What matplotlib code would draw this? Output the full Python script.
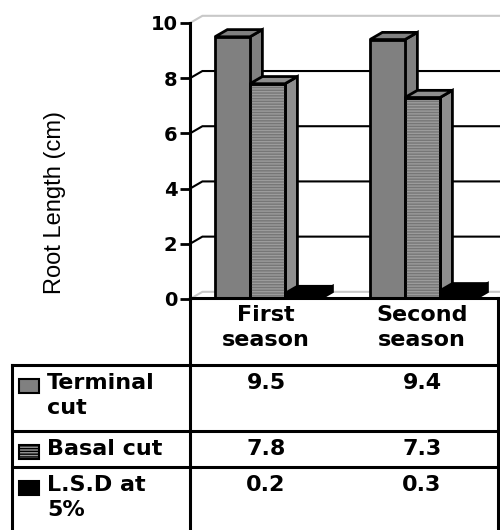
import matplotlib.pyplot as plt
from matplotlib.patches import Rectangle
import numpy as np

# data
seasons = ['First\nseason', 'Second\nseason']
terminal_cut = [9.5, 9.4]
basal_cut = [7.8, 7.3]
lsd_5 = [0.2, 0.3]
series_labels = ['Terminal\ncut', 'Basal cut', 'L.S.D at\n5%']
y_ticks = [0, 2, 4, 6, 8, 10]

series = [terminal_cut, basal_cut, lsd_5]
face_colors = ['#808080', '#9c9c9c', '#000000']
side_colors = ['#808080', '#8e8e8e', '#000000']
hatches = [None, '------', None]

W, H = 500, 530
fig = plt.figure(figsize=(W / 100, H / 100), dpi=100)

# main chart area (pixel positions from the reference)
ax = fig.add_axes([190 / W, 1 - 299 / H, 310 / W, 276 / H])
ax.set_xlim(-0.5, 1.5)
ax.set_ylim(0, 10)

x = np.arange(len(seasons))
bw = 0.226          # bar width in category units
dx, dy = 0.08, 0.26  # 3D depth offset

# back wall gridlines with the diagonal floor/wall edge
for v in y_ticks:
    col = '#c8c8c8' if v in (0, 10) else 'black'
    ax.plot([-0.5, -0.5 + dx, 1.5], [v, v + dy, v + dy], color=col, lw=1.5,
            clip_on=False, zorder=1, solid_joinstyle='miter')

# 3D-ish bars: front face, side face, top face
for i, vals in enumerate(series):
    off = (i - 1) * bw
    z = 3 + i
    for j, v in enumerate(vals):
        x0 = x[j] + off - bw / 2
        x1 = x0 + bw
        ax.fill([x1, x1 + dx, x1 + dx, x1], [0, dy, v + dy, v],
                facecolor=side_colors[i], edgecolor='black', lw=2, zorder=z,
                joinstyle='miter')
        ax.fill([x0, x1, x1 + dx, x0 + dx], [v, v, v + dy, v + dy],
                facecolor=side_colors[i], edgecolor='black', lw=2, zorder=z,
                joinstyle='miter')
        ax.bar(x0, v, width=bw, align='edge', color=face_colors[i],
               edgecolor='black', lw=2, zorder=z)
        if hatches[i]:
            ax.bar(x0, v, width=bw, align='edge', fill=False, hatch=hatches[i],
                   edgecolor='#767676', lw=0, zorder=z + 0.1)
            ax.bar(x0, v, width=bw, align='edge', fill=False,
                   edgecolor='black', lw=2, zorder=z + 0.2)

for s in ['top', 'right', 'bottom']:
    ax.spines[s].set_visible(False)
ax.spines['left'].set_linewidth(2.2)
ax.set_xticks([])
ax.set_yticks(y_ticks)
ax.tick_params(axis='y', length=7, width=2, labelsize=14, pad=2)
for lbl in ax.get_yticklabels():
    lbl.set_fontweight('bold')
ax.patch.set_visible(False)

fig.text(55 / W, 1 - 203 / H, 'Root Length (cm)', rotation=90, ha='center',
         va='center', fontsize=17, family='Liberation Sans')

# data table drawn in pixel coordinates
tab = fig.add_axes([0, 0, 1, 1])
tab.set_xlim(0, W)
tab.set_ylim(H, 0)
tab.axis('off')

lw_t = 2.2
tab.plot([190, 498], [298, 298], color='black', lw=lw_t)
tab.plot([190, 190], [298, 530], color='black', lw=lw_t)
tab.plot([498, 498], [298, 530], color='black', lw=lw_t)
tab.plot([12, 12], [365, 530], color='black', lw=lw_t)
for yy in [365, 431, 467]:
    tab.plot([12, 498], [yy, yy], color='black', lw=lw_t)

col_x = [266, 422]
txt = dict(fontsize=16, fontweight='bold', family='DejaVu Sans', linespacing=1.3)
for cx, s in zip(col_x, seasons):
    tab.text(cx, 305, s, ha='center', va='top', multialignment='center', **txt)

row_tops = [365, 431, 467]
for r, (lab, vals) in enumerate(zip(series_labels, series)):
    yt = row_tops[r] + 8
    tab.add_patch(Rectangle((19, yt + 6), 20, 14, facecolor=face_colors[r],
                            edgecolor='black', lw=1.5, hatch=hatches[r]))
    tab.text(47, yt, lab, ha='left', va='top', **txt)
    for cx, v in zip(col_x, vals):
        tab.text(cx, yt, f'{v:.1f}', ha='center', va='top', **txt)

fig.savefig('out.png', dpi=100)
